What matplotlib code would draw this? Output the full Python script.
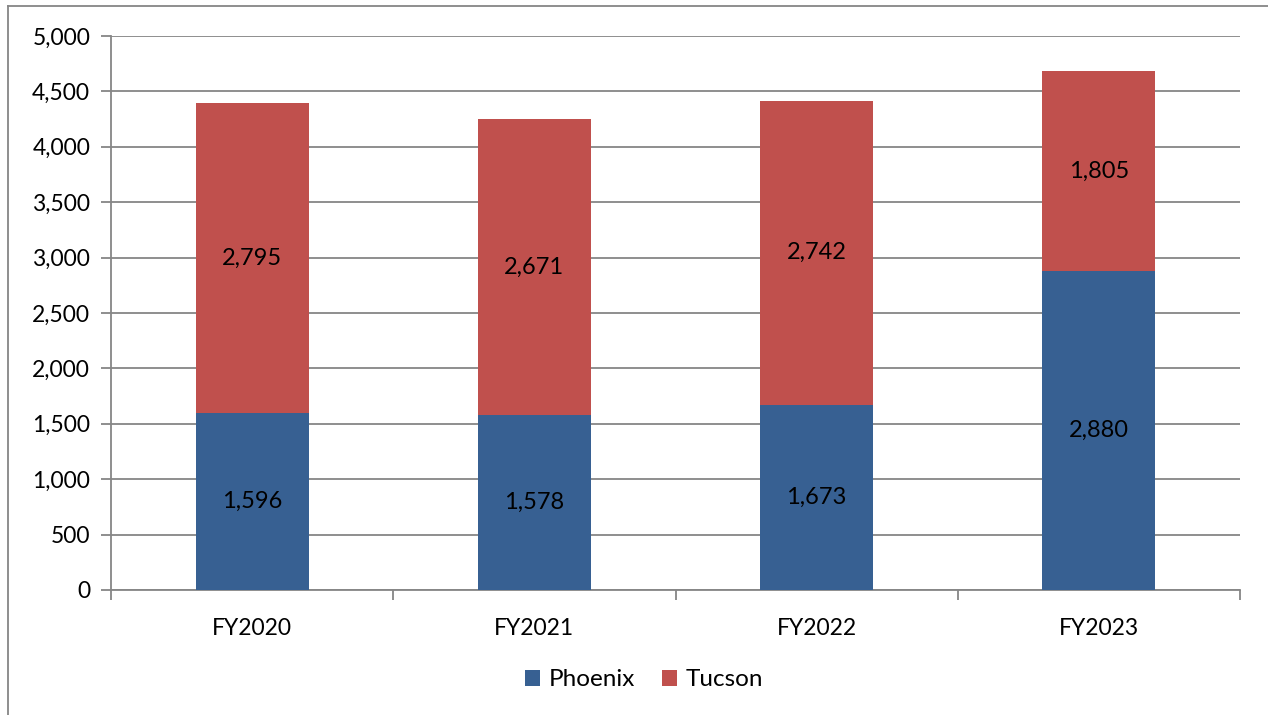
import matplotlib.pyplot as plt
from matplotlib.lines import Line2D

years = ['FY2020', 'FY2021', 'FY2022', 'FY2023']
phoenix = [1596, 1578, 1673, 2880]
tucson = [2795, 2671, 2742, 1805]

blue = '#376092'
red = '#C0504D'
grey = '#868686'

plt.rcParams['font.family'] = ['Lato', 'DejaVu Sans']

fig = plt.figure(figsize=(12.68, 7.15), dpi=100)
ax = fig.add_axes([111 / 1268, 1 - 590 / 715, (1240 - 111) / 1268, (590 - 36) / 715])

x = range(len(years))
b1 = ax.bar(x, phoenix, width=0.4, color=blue, label='Phoenix', zorder=3)
b2 = ax.bar(x, tucson, width=0.4, bottom=phoenix, color=red, label='Tucson', zorder=3)

# підписи значень у центрі сегментів
for i in x:
    ax.text(i, phoenix[i] / 2, f'{phoenix[i]:,}', ha='center', va='center', fontsize=17, zorder=4)
    ax.text(i, phoenix[i] + tucson[i] / 2, f'{tucson[i]:,}', ha='center', va='center', fontsize=17, zorder=4)

ax.set_xlim(-0.5, 3.5)
ax.set_ylim(0, 5000)
ax.set_yticks(range(0, 5001, 500))
ax.set_yticklabels([f'{v:,}' for v in range(0, 5001, 500)], fontsize=16.5)
ax.yaxis.grid(True, color=grey, linewidth=1.3, zorder=0)

ax.set_xticks([-0.5, 0.5, 1.5, 2.5, 3.5])
ax.set_xticklabels([])
ax.set_xticks(list(x), minor=True)
ax.set_xticklabels(years, minor=True, fontsize=16.5)
ax.tick_params(axis='x', which='major', length=7, color=grey, width=1.3)
ax.tick_params(axis='x', which='minor', length=0, pad=20)
ax.tick_params(axis='y', length=7, color=grey, width=1.3, pad=8)

for s in ['top', 'right']:
    ax.spines[s].set_visible(False)
for s in ['left', 'bottom']:
    ax.spines[s].set_color(grey)
    ax.spines[s].set_linewidth(1.3)

fig.legend(handles=[b1, b2], loc='center', bbox_to_anchor=(644 / 1268, 1 - 680 / 715),
           ncol=2, frameon=False, fontsize=17.5, handlelength=0.62, handleheight=0.62,
           handletextpad=0.35, columnspacing=1.1)

# рамка навколо діаграми (видно лише зліва та зверху)
fig.add_artist(Line2D([8 / 1268, 8 / 1268], [0, 1 - 6 / 715], color=grey, linewidth=1.3))
fig.add_artist(Line2D([8 / 1268, 1], [1 - 6 / 715, 1 - 6 / 715], color=grey, linewidth=1.3))

fig.savefig('out.png', dpi=100)
